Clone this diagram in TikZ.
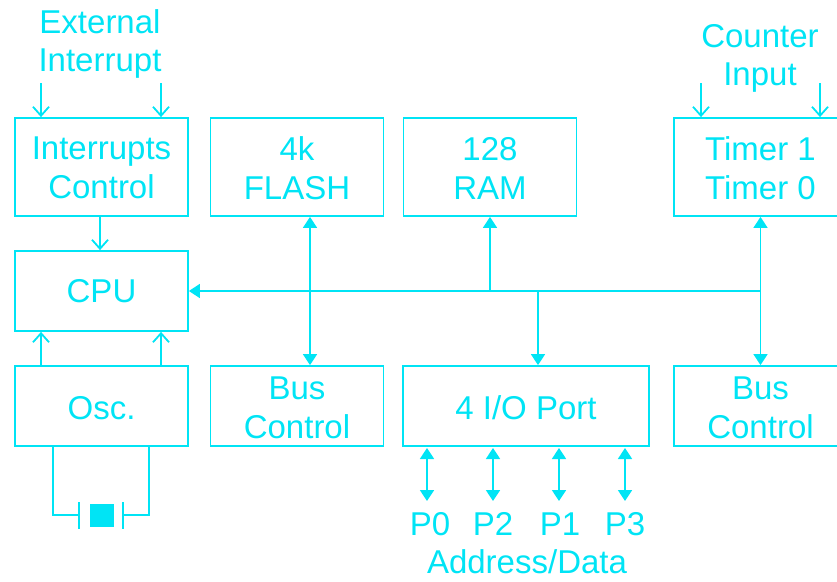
\documentclass[tikz,border=0pt]{standalone}
\usepackage{fontspec}
\setmainfont{Liberation Sans}
\usepackage{tikz}
\usetikzlibrary{arrows.meta}
\definecolor{cyanline}{RGB}{0,228,245}
\newcommand{\lowone}[1]{\raisebox{-1pt}[\height][\depth]{#1}}
\newcommand{\lowtwo}[1]{\raisebox{-2pt}[\height][\depth]{#1}}

\begin{document}
\begin{tikzpicture}[
      x=1pt,
      y=-1pt,
      line width=1.8pt,
      color=cyanline,
      block/.style={draw,minimum width=173pt,inner sep=0pt,align=center,font=\fontsize{33}{39}\selectfont},
      tall/.style={block,minimum height=98pt},
      short/.style={block,minimum height=80pt},
      label/.style={inner sep=0pt,align=center,font=\fontsize{33}{38}\selectfont},
      open/.style={-{Straight Barb[length=9pt,width=16pt]}},
      solid/.style={-{Triangle[length=11pt,width=14pt]}},
      both/.style={{Triangle[length=11pt,width=14pt]}-{Triangle[length=11pt,width=14pt]}}
    ]
    \useasboundingbox (0,0) rectangle (837,581);
    \clip (0,0) rectangle (837,581);
    \node (irq) [tall] at (101.5,167) {\lowone{Interrupts}\\\lowone{Control}};
    \node (flash) [tall] at (297,167) {\lowone{4k}\\\lowone{FLASH}};
    \node (ram) [tall] at (490,167) {\lowone{128}\\\lowone{RAM}};
    \node (timer) [tall] at (760.5,167) {\lowone{Timer 1}\\\lowone{Timer 0}};
    \node (cpu) [short] at (101.5,291) {CPU};
    \node (osc) [short] at (101.5,406) {\lowtwo{Osc.}};
    \node (bus1) [short] at (297,406) {\lowtwo{Bus}\\\lowtwo{Control}};
    \node (port) [short,minimum width=246pt] at (526,406) {\lowtwo{4 I/O Port}};
    \node (bus2) [short] at (760.5,406) {\lowtwo{Bus}\\\lowtwo{Control}};
    \node (extint) [label] at (100,44) {External\\Interrupt};
    \node (count) [label] at (760,58) {Counter\\Input};
    \node (p0) [label] at (430,524) {P0};
    \node (p2) [label] at (493,524) {P2};
    \node (p1) [label] at (560,524) {P1};
    \node (p3) [label] at (625,524) {P3};
    \node (addr) [label] at (527,562) {Address/Data};
    \coordinate (irqa) at (41,83);
    \coordinate (irqb) at (161,83);
    \coordinate (cnta) at (701,83);
    \coordinate (cntb) at (820,83);
    \coordinate (flashbus) at (310,291);
    \coordinate (busa) at (490,291);
    \coordinate (busb) at (538,291);
    \coordinate (busc) at (760.5,291);
    \coordinate (pa) at (427,448);
    \coordinate (pb) at (493,448);
    \coordinate (pc) at (559,448);
    \coordinate (pd) at (625,448);
    % inputs
    \draw [open] (irqa) -- (irqa |- irq.north);
    \draw [open] (irqb) -- (irqb |- irq.north);
    \draw [open] (cnta) -- (cnta |- timer.north);
    \draw [open] (cntb) -- (cntb |- timer.north);
    \draw [open] (irq.south -| 100,0) -- (cpu.north -| 100,0);
    \draw [open] (osc.north -| irqa) -- (cpu.south -| irqa);
    \draw [open] (osc.north -| irqb) -- (cpu.south -| irqb);
    % bus
    \draw [solid] (busc) -- (cpu.east);
    \draw [both] (flash.south -| flashbus) -- (bus1.north -| flashbus);
    \draw [solid] (busa) -- (ram.south);
    \draw [solid] (busb) -- (port.north -| busb);
    \draw [both] (timer.south) -- (bus2.north);
    % ports
    \draw [both] (pa) -- ++(0,53);
    \draw [both] (pb) -- ++(0,53);
    \draw [both] (pc) -- ++(0,53);
    \draw [both] (pd) -- ++(0,53);
    % crystal
    \draw (53,446) -- (53,515) -- (79,515);
    \draw (149,446) -- (149,515) -- (123,515);
    \draw (79,502) -- (79,529);
    \draw (123,502) -- (123,529);
    \fill (90,504) rectangle (114,527);
  \end{tikzpicture}
\end{document}
